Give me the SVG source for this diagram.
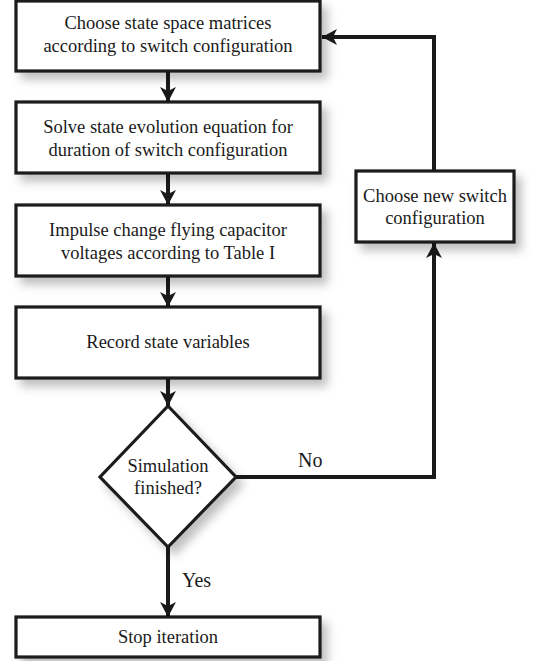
<svg xmlns="http://www.w3.org/2000/svg" width="545" height="661" viewBox="0 0 545 661">
<style>
.box{fill:#fff;stroke:#1a1a1a;stroke-width:3.2;filter:url(#sh)}
.t{font-family:'Liberation Serif','Times New Roman',Times,'Noto Serif','DejaVu Serif',serif;font-size:18.5px;fill:#1a1a1a;text-anchor:middle}
.lbl{font-family:'Liberation Serif','Times New Roman',Times,'Noto Serif','DejaVu Serif',serif;font-size:20px;fill:#1a1a1a}
.c{fill:none;stroke:#1a1a1a;stroke-width:4;marker-end:url(#ah)}
</style>
<defs>
<filter id="sh" x="-10%" y="-20%" width="130%" height="160%">
<feDropShadow dx="6" dy="7" stdDeviation="5" flood-color="#000" flood-opacity="0.25"/>
</filter>
<marker id="ah" markerUnits="userSpaceOnUse" markerWidth="18" markerHeight="18" refX="15" refY="8" orient="auto">
<path d="M0,0 L15,8 L0,16 L4,8 z" fill="#1a1a1a"/>
</marker>
</defs>
<rect width="545" height="661" fill="#fff"/>
<g id="connectors">
<line class="c" x1="168" y1="71" x2="168" y2="102"/>
<line class="c" x1="168" y1="173" x2="168" y2="205"/>
<line class="c" x1="168" y1="276" x2="168" y2="307"/>
<line class="c" x1="168" y1="378" x2="168" y2="406"/>
<line class="c" x1="168" y1="547" x2="168" y2="617"/>
<polyline class="c" points="236,477 434,477 434,243"/>
<polyline class="c" points="434,171 434,37 322,37"/>
<text class="lbl" x="298" y="467">No</text>
<text class="lbl" x="182" y="587">Yes</text>
</g>
<g id="n1">
<rect class="box" x="16" y="1" width="304" height="70"/>
<text class="t" x="168" y="29">Choose state space matrices</text>
<text class="t" x="168" y="52">according to switch configuration</text>
</g>
<g id="n2">
<rect class="box" x="16" y="102" width="304" height="71"/>
<text class="t" x="168" y="133">Solve state evolution equation for</text>
<text class="t" x="168" y="156">duration of switch configuration</text>
</g>
<g id="n3">
<rect class="box" x="16" y="205" width="304" height="71"/>
<text class="t" x="168" y="236">Impulse change flying capacitor</text>
<text class="t" x="168" y="259">voltages according to Table I</text>
</g>
<g id="n4">
<rect class="box" x="16" y="307" width="304" height="71"/>
<text class="t" x="168" y="348">Record state variables</text>
</g>
<g id="n5">
<polygon class="box" points="168,406 236,477 168,547 100,477"/>
<text class="t" x="168" y="472">Simulation</text>
<text class="t" x="168" y="494">finished?</text>
</g>
<g id="n6">
<rect class="box" x="16" y="617" width="304" height="40"/>
<text class="t" x="168" y="643">Stop iteration</text>
</g>
<g id="n7">
<rect class="box" x="356" y="171" width="158" height="71"/>
<text class="t" x="435" y="202">Choose new switch</text>
<text class="t" x="435" y="224">configuration</text>
</g>
</svg>
